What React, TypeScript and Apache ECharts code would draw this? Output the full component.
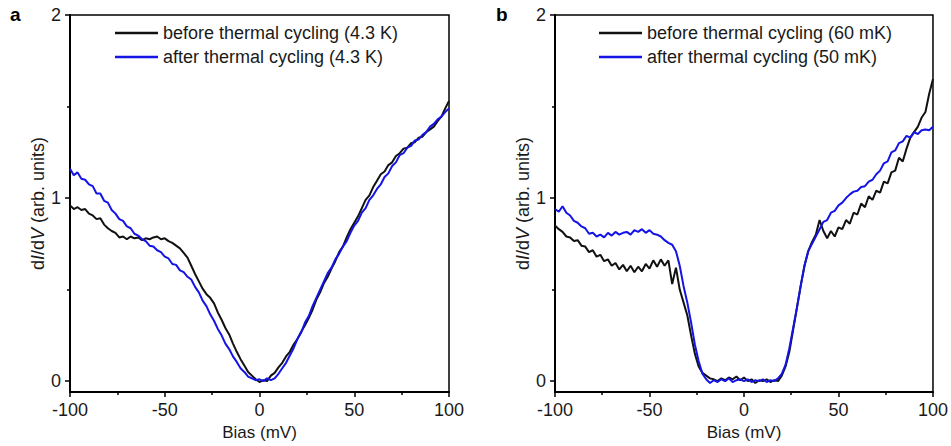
import React, { useEffect, useRef } from "react";
import * as echarts from "echarts";

// Bias grid (mV)
const BIAS = [
  -100, -98, -96, -94, -92, -90, -88, -86, -84, -82,
  -80, -78, -76, -74, -72, -70, -68, -66, -64, -62,
  -60, -58, -56, -54, -52, -50, -48, -46, -44, -42,
  -40, -38, -36, -34, -32, -30, -28, -26, -24, -22,
  -20, -18, -16, -14, -12, -10, -8, -6, -4, -2,
  0, 2, 4, 6, 8, 10, 12, 14, 16, 18,
  20, 22, 24, 26, 28, 30, 32, 34, 36, 38,
  40, 42, 44, 46, 48, 50, 52, 54, 56, 58,
  60, 62, 64, 66, 68, 70, 72, 74, 76, 78,
  80, 82, 84, 86, 88, 90, 92, 94, 96, 98,
  100,
];

// Panel a: before thermal cycling (4.3 K)
const A_BEFORE = [
  0.96, 0.94, 0.95, 0.935, 0.94, 0.915, 0.905, 0.885, 0.89, 0.855,
  0.835, 0.82, 0.81, 0.785, 0.79, 0.775, 0.79, 0.78, 0.785, 0.77,
  0.78, 0.775, 0.785, 0.79, 0.775, 0.78, 0.765, 0.755, 0.74, 0.725,
  0.7, 0.675, 0.63, 0.585, 0.545, 0.505, 0.475, 0.455, 0.425, 0.375,
  0.335, 0.29, 0.255, 0.205, 0.16, 0.12, 0.085, 0.05, 0.03, 0.01,
  -0.005, 0.005, 0.0, 0.03, 0.045, 0.075, 0.1, 0.135, 0.16, 0.2,
  0.23, 0.27, 0.305, 0.345, 0.39, 0.445, 0.485, 0.535, 0.57, 0.615,
  0.655, 0.705, 0.735, 0.785, 0.83, 0.865, 0.9, 0.945, 0.99, 1.015,
  1.06, 1.095, 1.13, 1.145, 1.18, 1.195, 1.23, 1.245, 1.27, 1.275,
  1.3, 1.305, 1.33, 1.335, 1.36, 1.375, 1.39, 1.42, 1.445, 1.49,
  1.53,
];

// Panel a: after thermal cycling (4.3 K)
const A_AFTER = [
  1.16, 1.125, 1.14, 1.105, 1.1, 1.075, 1.065, 1.025, 1.025, 0.985,
  0.975, 0.935, 0.915, 0.885, 0.875, 0.845, 0.835, 0.805, 0.795, 0.775,
  0.765, 0.74, 0.735, 0.715, 0.705, 0.68, 0.67, 0.64, 0.635, 0.605,
  0.595, 0.57, 0.555, 0.515, 0.485, 0.44, 0.41, 0.365, 0.33, 0.285,
  0.25, 0.205, 0.175, 0.135, 0.105, 0.07, 0.05, 0.025, 0.015, 0.005,
  0.01, 0.0, 0.015, 0.005, 0.015, 0.04, 0.07, 0.1, 0.14, 0.18,
  0.23, 0.265, 0.32, 0.355, 0.41, 0.455, 0.5, 0.545, 0.59, 0.62,
  0.665, 0.695, 0.735, 0.765, 0.81, 0.85, 0.875, 0.92, 0.945, 0.99,
  1.015, 1.05, 1.075, 1.115, 1.135, 1.175, 1.195, 1.235, 1.245, 1.275,
  1.285, 1.315, 1.32, 1.345, 1.36, 1.39, 1.405, 1.43, 1.445, 1.47,
  1.49,
];

// Panel b: before thermal cycling (60 mK)
const B_BEFORE = [
  0.85, 0.83, 0.815, 0.79, 0.785, 0.765, 0.77, 0.74, 0.735, 0.705,
  0.715, 0.68, 0.69, 0.655, 0.665, 0.63, 0.645, 0.61, 0.635, 0.6,
  0.63, 0.595, 0.625, 0.6, 0.64, 0.615, 0.66, 0.625, 0.665, 0.63,
  0.66, 0.53, 0.62, 0.5, 0.43, 0.36, 0.25, 0.15, 0.08, 0.045,
  0.03, 0.015, 0.01, 0.0, 0.015, 0.005, 0.02, 0.01, 0.025, 0.005,
  0.02, 0.0, 0.01, -0.01, 0.005, 0.0, 0.01, -0.005, 0.005, 0.0,
  0.03, 0.08, 0.16, 0.28, 0.4, 0.52, 0.63, 0.71, 0.76, 0.8,
  0.88, 0.82, 0.78, 0.82, 0.79, 0.84, 0.83, 0.88, 0.86, 0.92,
  0.91, 0.97, 0.95, 1.01, 0.99, 1.04, 1.03, 1.09, 1.08, 1.14,
  1.15, 1.22, 1.2, 1.27, 1.33, 1.36, 1.39, 1.44, 1.47, 1.57,
  1.65,
];

// Panel b: after thermal cycling (50 mK)
const B_AFTER = [
  0.94, 0.925, 0.955, 0.92, 0.905, 0.875, 0.865, 0.845, 0.835, 0.805,
  0.81, 0.79, 0.8, 0.785, 0.81, 0.795, 0.815, 0.8, 0.81, 0.815,
  0.8, 0.825, 0.815, 0.83, 0.81, 0.825, 0.805, 0.8, 0.79, 0.77,
  0.755, 0.745, 0.71, 0.63, 0.52, 0.43, 0.32, 0.2, 0.11, 0.04,
  0.01, -0.01, 0.005, -0.005, 0.01, 0.0, 0.015, -0.005, 0.005, 0.01,
  0.0, 0.01, -0.005, 0.005, 0.0, 0.01, -0.005, 0.005, 0.0, 0.015,
  0.04, 0.09, 0.18, 0.29, 0.4, 0.52, 0.63, 0.71, 0.75, 0.79,
  0.83, 0.87, 0.88, 0.92, 0.93, 0.96, 0.975, 1.0, 1.02, 1.035,
  1.04, 1.06, 1.065, 1.09, 1.1, 1.13, 1.15, 1.19, 1.2, 1.25,
  1.26, 1.3, 1.31, 1.34, 1.33, 1.36, 1.35, 1.37, 1.375, 1.37,
  1.39,
];

const Y_MAJOR = [0, 1, 2];
const Y_MINOR = [0.5, 1.5];
const LEGEND_A = ["before thermal cycling (4.3 K)", "after thermal cycling (4.3 K)"];
const LEGEND_B = ["before thermal cycling (60 mK)", "after thermal cycling (50 mK)"];

const FONT = "'Liberation Sans', Arial, sans-serif";
const TXT = "#1a1a1a";
const BLACK = "#111111";
const BLUE = "#1414e6";

const pairs = (ys: number[]) => BIAS.map((x, i) => [x, ys[i]]);

export default function App() {
  const ref = useRef<HTMLDivElement>(null);
  useEffect(() => {
    document.body.style.margin = "0";
    if (!ref.current) return;
    const chart = echarts.init(ref.current, undefined, { renderer: "svg" });

    const grids = [
      { left: 70, top: 15, width: 379, height: 378 },
      { left: 555, top: 15, width: 378, height: 378 },
    ].map((g) => ({ ...g, show: true, borderColor: "#000", borderWidth: 1.5, backgroundColor: "transparent" }));

    const xAxes = [0, 1].map((gi) => ({
      type: "value",
      gridIndex: gi,
      min: -100,
      max: 100,
      interval: 50,
      name: "Bias (mV)",
      nameLocation: "middle",
      nameGap: 30,
      nameTextStyle: { fontSize: 17, fontFamily: FONT, color: TXT },
      axisLine: { show: true, onZero: false, lineStyle: { color: "#000", width: 2 } },
      axisTick: { show: true, inside: false, length: 5, lineStyle: { color: "#000", width: 1.5 } },
      minorTick: { show: true, splitNumber: 2, length: 3, lineStyle: { color: "#000", width: 1.5 } },
      axisLabel: { fontSize: 18, fontFamily: FONT, color: TXT, margin: 9 },
      splitLine: { show: false },
      minorSplitLine: { show: false },
    }));

    const yAxes: any[] = [];
    [0, 1].forEach((gi) => {
      yAxes.push({
        type: "value",
        gridIndex: gi,
        min: -0.06,
        max: 2,
        position: "left",
        name: "d{i|I}/d{i|V} (arb. units)",
        nameLocation: "middle",
        nameGap: 22,
        nameRotate: 90,
        nameTextStyle: {
          fontSize: 18,
          fontFamily: FONT,
          color: TXT,
          rich: { i: { fontSize: 18, fontFamily: FONT, color: TXT, fontStyle: "italic" } },
        },
        axisLine: { show: true, onZero: false, lineStyle: { color: "#000", width: 2 } },
        axisTick: { show: true, inside: false, length: 5, customValues: Y_MAJOR, lineStyle: { color: "#000", width: 1.5 } },
        axisLabel: { fontSize: 18, fontFamily: FONT, color: TXT, margin: 9, customValues: Y_MAJOR },
        splitLine: { show: false },
      });
      yAxes.push({
        type: "value",
        gridIndex: gi,
        min: -0.06,
        max: 2,
        position: "left",
        axisLine: { show: false, onZero: false },
        axisTick: { show: true, inside: false, length: 3, customValues: Y_MINOR, lineStyle: { color: "#000", width: 1.5 } },
        axisLabel: { show: false },
        splitLine: { show: false },
      });
    });

    const mk = (name: string, ys: number[], color: string, gi: number) => ({
      type: "line",
      name,
      xAxisIndex: gi,
      yAxisIndex: gi * 2,
      data: pairs(ys),
      showSymbol: false,
      symbol: "none",
      color,
      lineStyle: { color, width: 2 },
      clip: true,
    });

    const legendBase = {
      orient: "vertical",
      padding: 0,
      itemWidth: 43,
      itemHeight: 2.5,
      itemGap: 6,
      icon: "rect",
      selectedMode: false,
      textStyle: { fontSize: 18, fontFamily: FONT, color: TXT },
    };

    chart.setOption({
      animation: false,
      backgroundColor: "#fff",
      grid: grids,
      xAxis: xAxes,
      yAxis: yAxes,
      legend: [
        { ...legendBase, left: 115, top: 24, data: LEGEND_A },
        { ...legendBase, left: 599, top: 24, data: LEGEND_B },
      ],
      series: [
        mk(LEGEND_A[0], A_BEFORE, BLACK, 0),
        mk(LEGEND_A[1], A_AFTER, BLUE, 0),
        mk(LEGEND_B[0], B_BEFORE, BLACK, 1),
        mk(LEGEND_B[1], B_AFTER, BLUE, 1),
      ],
      graphic: [
        { type: "text", left: 10, top: 5, style: { text: "a", fontSize: 19, fontWeight: "bold", fontFamily: FONT, fill: "#000" } },
        { type: "text", left: 496, top: 5, style: { text: "b", fontSize: 19, fontWeight: "bold", fontFamily: FONT, fill: "#000" } },
      ],
    });
    return () => chart.dispose();
  }, []);
  return <div ref={ref} style={{ width: 951, height: 446 }} />;
}
